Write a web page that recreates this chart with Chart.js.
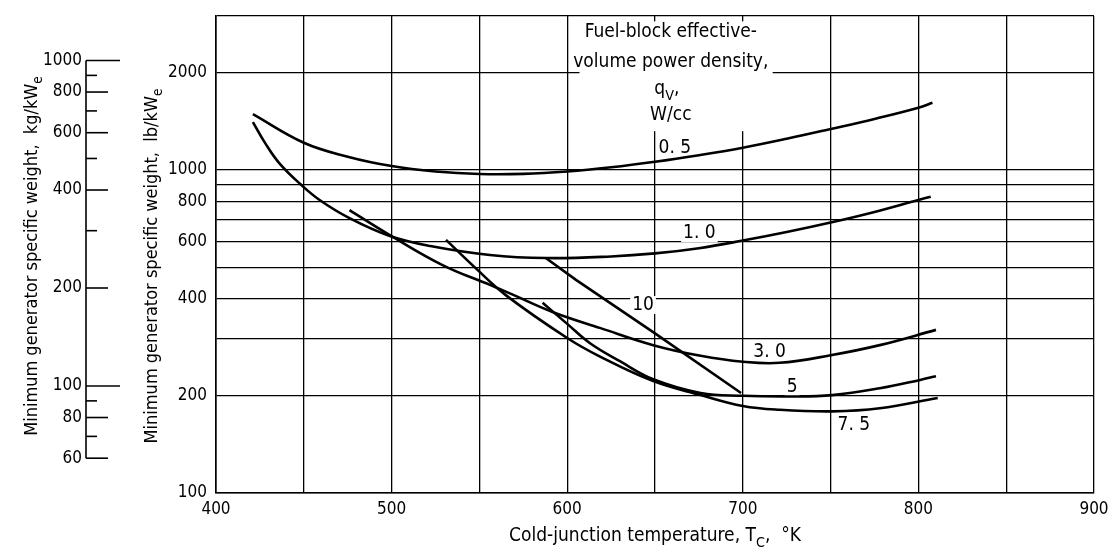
<!DOCTYPE html>
<html>
<head>
<meta charset="utf-8">
<script src="https://cdn.jsdelivr.net/npm/chart.js@4.4.1/dist/chart.umd.min.js"></script>
<style>
  html, body { margin: 0; padding: 0; background: #fff; }
</style>
</head>
<body>
<canvas id="chart" width="1109" height="548"></canvas>
<script>
// kg/kWe side scale limits as drawn on the figure (lined up with 100-3000 lb/kWe)
const KG_MIN = 46.9;
const KG_MAX = 1370;

// cold-junction temperature (K) and specific weight (lb/kWe)
const t05 = [421, 450, 475, 500, 525, 550, 575, 600, 625, 650, 675, 700, 725, 750, 775, 800, 808];
const w05 = [1490, 1215, 1100, 1029, 990, 972, 973, 990, 1020, 1061, 1112, 1173, 1250, 1340, 1440, 1560, 1616];

const t10 = [421, 428, 436, 448, 459, 476, 499, 522, 556, 588, 625, 650, 675, 700, 725, 750, 775, 800, 807];
const w10 = [1408, 1212, 1051, 905, 808, 710, 625, 582, 546, 534, 540, 552, 573, 605, 643, 688, 742, 808, 827];

const t30 = [476, 499, 529, 556, 567, 592, 619, 649, 676, 700, 721, 750, 778, 810];
const w30 = [752, 629, 508, 441, 416, 363, 324, 287, 266, 255, 253, 267, 287, 320];

const t50 = [586, 600, 613, 630, 649, 676, 700, 727, 751, 778, 801, 810];
const w50 = [388, 334, 291, 256, 225, 204, 200, 199, 201, 211, 224, 230];

const t75 = [531, 548, 565, 600, 619, 649, 676, 700, 721, 751, 778, 811];
const w75 = [608, 496, 410, 302, 264, 222, 201, 186, 181, 179, 183, 197];

const t100 = [588, 605, 650, 699];
const w100 = [533, 457, 312, 204];

// axis ticks
const xTicks = [400, 450, 500, 550, 600, 650, 700, 750, 800, 850, 900];
const xLabels = [400, 500, 600, 700, 800, 900];
const lbTicks = [100, 200, 300, 400, 500, 600, 700, 800, 900, 1000, 2000, 3000];
const lbLabels = [100, 200, 400, 600, 800, 1000, 2000];
const kgMajor = [60, 80, 100, 200, 400, 600, 800, 1000];
const kgMinor = [70, 90, 300, 500, 700, 900];

// curve labels: text, temperature, weight
const curveLabels = [
  ['0. 5', 652, 1170],
  ['1. 0', 666, 638],
  ['10', 637, 382],
  ['3. 0', 706, 273],
  ['5', 725, 213],
  ['7. 5', 754, 162]
];

const TICK_FONT = { family: "'DejaVu Sans Condensed', 'DejaVu Sans', sans-serif", size: 17 };
const TEXT_FONT = "'DejaVu Sans Condensed', 'DejaVu Sans', sans-serif";

function pairs(t, w) {
  return t.map((v, i) => ({ x: v, y: w[i] }));
}

function curve(t, w, straight) {
  return {
    data: pairs(t, w),
    borderColor: '#000',
    borderWidth: 2.6,
    pointRadius: 0,
    fill: false,
    tension: straight ? 0 : 0.4
  };
}

// text with subscripts, segments: [text, isSub]
function drawRich(ctx, segs, x, y, size, align) {
  let total = 0;
  const widths = segs.map(s => {
    ctx.font = (s[1] ? size * 0.75 : size) + 'px ' + TEXT_FONT;
    const w = ctx.measureText(s[0]).width;
    total += w;
    return w;
  });
  let cx = align === 'center' ? x - total / 2 : x;
  segs.forEach((s, i) => {
    ctx.font = (s[1] ? size * 0.75 : size) + 'px ' + TEXT_FONT;
    ctx.fillText(s[0], cx, s[1] ? y + size * 0.3 : y);
    cx += widths[i];
  });
}

function noPad(s) {
  s.paddingTop = 0;
  s.paddingBottom = 0;
  s.paddingLeft = 0;
  s.paddingRight = 0;
}

const annotations = {
  id: 'annotations',
  beforeDatasetsDraw(chart) {
    const ctx = chart.ctx;
    const xs = chart.scales.x, ys = chart.scales.y;
    ctx.save();
    // legend box over the grid
    const bx0 = xs.getPixelForValue(607), bx1 = xs.getPixelForValue(717);
    const by0 = ys.getPixelForValue(2950), by1 = ys.getPixelForValue(1320);
    ctx.fillStyle = '#fff';
    ctx.fillRect(bx0, by0 + 3, bx1 - bx0, by1 - by0 - 3);
    ctx.fillStyle = '#000';
    ctx.textBaseline = 'alphabetic';
    const cx = xs.getPixelForValue(659);
    drawRich(ctx, [['Fuel-block effective-', false]], cx, ys.getPixelForValue(2581), 19, 'center');
    drawRich(ctx, [['volume power density,', false]], cx, ys.getPixelForValue(2090), 19, 'center');
    drawRich(ctx, [['q', false], ['V', true], [',', false]], cx - 4, ys.getPixelForValue(1719), 19, 'center');
    drawRich(ctx, [['W/cc', false]], cx, ys.getPixelForValue(1428), 19, 'center');

    // curve labels
    ctx.font = '19px ' + TEXT_FONT;
    ctx.textBaseline = 'middle';
    curveLabels.forEach(([txt, t, w]) => {
      const px = xs.getPixelForValue(t), py = ys.getPixelForValue(w);
      const tw = ctx.measureText(txt).width;
      ctx.fillStyle = '#fff';
      ctx.fillRect(px - 2, py - 9, tw + 4, 18);
      ctx.fillStyle = '#000';
      ctx.fillText(txt, px, py);
    });
    ctx.restore();
  },
  afterDraw(chart) {
    const ctx = chart.ctx;
    const kg = chart.scales.kg;
    const area = chart.chartArea;
    ctx.save();
    ctx.strokeStyle = '#000';
    ctx.lineWidth = 1.6;
    const ax = kg.right;
    ctx.beginPath();
    ctx.moveTo(ax, kg.getPixelForValue(60));
    ctx.lineTo(ax, kg.getPixelForValue(1000));
    ctx.stroke();
    kgMajor.forEach(v => {
      const py = kg.getPixelForValue(v);
      const len = (v === 100 || v === 1000) ? 34 : 22;
      ctx.beginPath();
      ctx.moveTo(ax, py);
      ctx.lineTo(ax + len, py);
      ctx.stroke();
    });
    kgMinor.forEach(v => {
      const py = kg.getPixelForValue(v);
      ctx.beginPath();
      ctx.moveTo(ax, py);
      ctx.lineTo(ax + 11, py);
      ctx.stroke();
    });

    // axis titles
    ctx.fillStyle = '#000';
    ctx.textBaseline = 'alphabetic';
    drawRich(ctx, [['Cold-junction temperature, T', false], ['C', true], [',  \u00B0K', false]],
      (area.left + area.right) / 2, 541, 19, 'center');
    ctx.save();
    ctx.translate(157, 266);
    ctx.rotate(-Math.PI / 2);
    drawRich(ctx, [['Minimum generator specific weight,  lb/kW', false], ['e', true]], 0, 0, 18, 'center');
    ctx.restore();
    ctx.save();
    ctx.translate(37, 256);
    ctx.rotate(-Math.PI / 2);
    drawRich(ctx, [['Minimum generator specific weight,  kg/kW', false], ['e', true]], 0, 0, 18, 'center');
    ctx.restore();
    ctx.restore();
  }
};

new Chart(document.getElementById('chart').getContext('2d'), {
  type: 'line',
  data: {
    datasets: [
      curve(t05, w05),
      curve(t10, w10),
      curve(t30, w30),
      curve(t50, w50),
      curve(t75, w75),
      curve(t100, w100, true)
    ]
  },
  options: {
    responsive: false,
    animation: false,
    layout: { padding: { left: 0, right: 15, top: 16, bottom: 0 } },
    plugins: { legend: { display: false }, tooltip: { enabled: false } },
    scales: {
      x: {
        type: 'linear',
        min: 400,
        max: 900,
        afterBuildTicks: s => { s.ticks = xTicks.map(v => ({ value: v })); },
        afterFit: s => { s.height = 55; noPad(s); },
        ticks: {
          autoSkip: false,
          maxRotation: 0,
          padding: 6,
          color: '#000',
          font: TICK_FONT,
          callback: v => xLabels.includes(v) ? String(v) : ''
        },
        grid: { color: '#000', lineWidth: 1.3, drawTicks: false },
        border: { color: '#000', width: 1.6 }
      },
      y: {
        type: 'logarithmic',
        position: 'left',
        weight: 0,
        min: 100,
        max: 3000,
        afterBuildTicks: s => { s.ticks = lbTicks.map(v => ({ value: v })); },
        afterFit: s => { s.width = 130; noPad(s); },
        ticks: {
          autoSkip: false,
          padding: 9,
          color: '#000',
          font: TICK_FONT,
          callback: v => lbLabels.includes(v) ? String(v) : ''
        },
        grid: { color: '#000', lineWidth: 1.3, drawTicks: false },
        border: { color: '#000', width: 1.6 }
      },
      kg: {
        type: 'logarithmic',
        position: 'left',
        weight: 1,
        min: KG_MIN,
        max: KG_MAX,
        afterBuildTicks: s => { s.ticks = kgMajor.map(v => ({ value: v })); },
        afterFit: s => { s.width = 86; noPad(s); },
        ticks: {
          autoSkip: false,
          padding: 4,
          color: '#000',
          font: TICK_FONT,
          callback: v => String(v)
        },
        grid: { display: false, drawTicks: false },
        border: { display: false }
      }
    }
  },
  plugins: [annotations]
});
</script>
</body>
</html>
